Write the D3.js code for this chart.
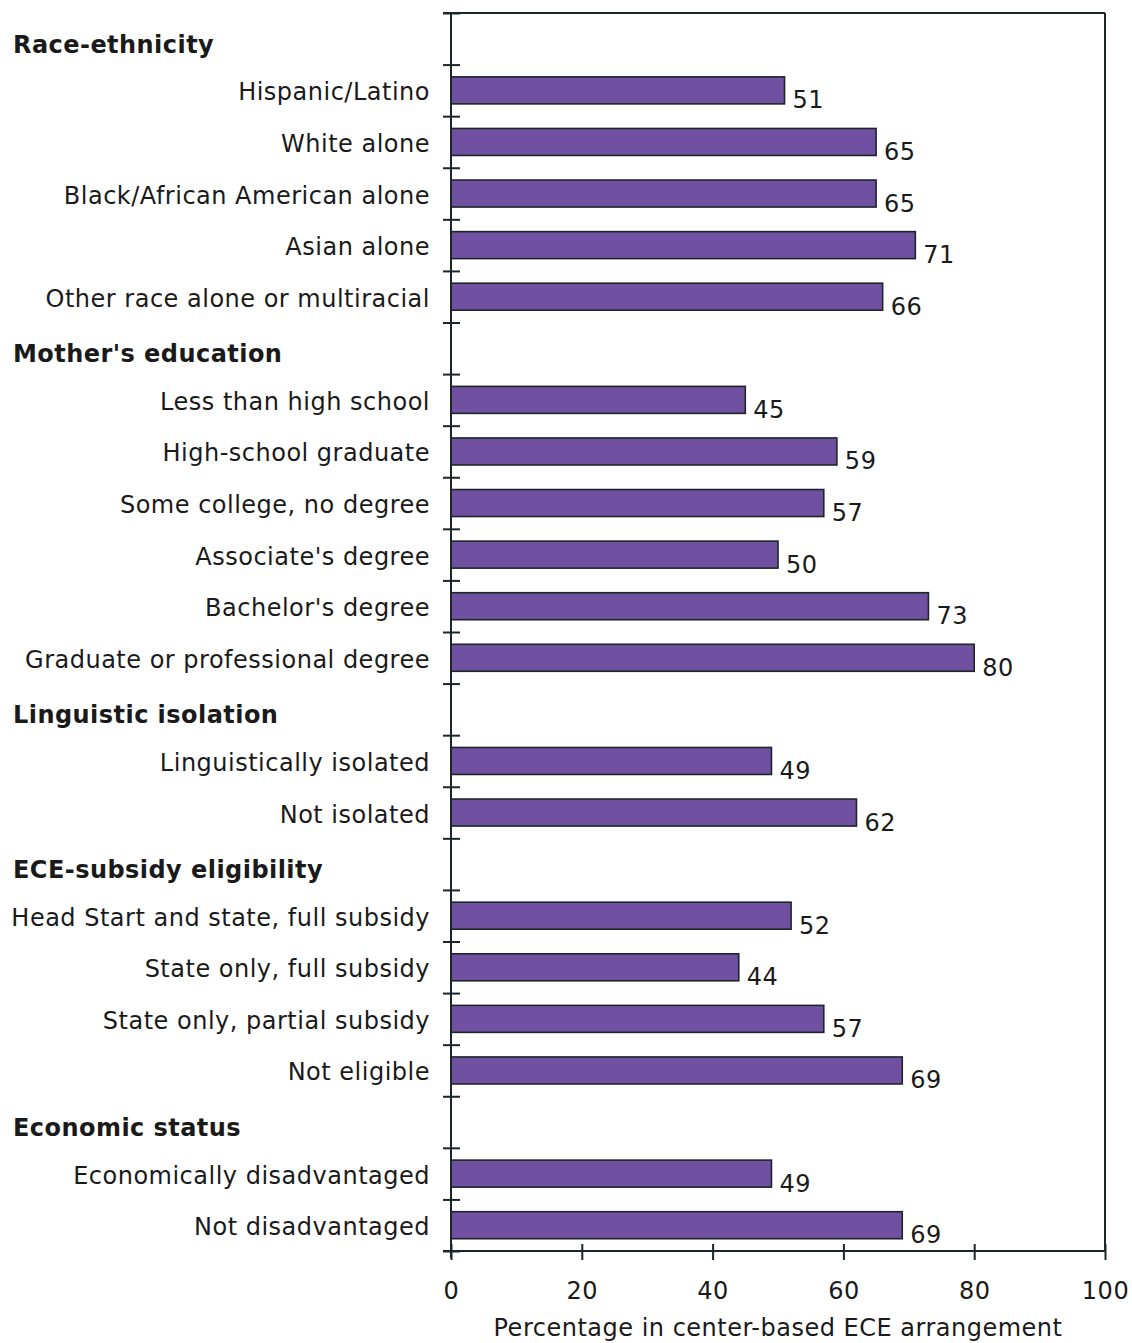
<!DOCTYPE html>
<html><head><meta charset="utf-8">
<script src="https://cdn.jsdelivr.net/npm/d3@7"></script>
<style>
html,body{margin:0;padding:0;background:#fff;}
text{font-family:"DejaVu Sans",Verdana,sans-serif;fill:#1a1a1a;}
</style></head>
<body><svg id="chart" width="1132" height="1343"></svg>
<script>
const groupNames = ["Race-ethnicity", "Mother's education", "Linguistic isolation", "ECE-subsidy eligibility", "Economic status"];
const categories = ["Hispanic/Latino", "White alone", "Black/African American alone", "Asian alone", "Other race alone or multiracial",
  "Less than high school", "High-school graduate", "Some college, no degree", "Associate's degree", "Bachelor's degree", "Graduate or professional degree",
  "Linguistically isolated", "Not isolated",
  "Head Start and state, full subsidy", "State only, full subsidy", "State only, partial subsidy", "Not eligible",
  "Economically disadvantaged", "Not disadvantaged"];
const categoryGroup = [0,0,0,0,0, 1,1,1,1,1,1, 2,2, 3,3,3,3, 4,4];
const values = [51,65,65,71,66, 45,59,57,50,73,80, 49,62, 52,44,57,69, 49,69];
const xTicks = [0,20,40,60,80,100];
const xTitle = "Percentage in center-based ECE arrangement";

(function () {
// build slot list: header then its categories
const slots = [];
groupNames.forEach((g, gi) => {
  slots.push({key: "h" + gi, header: true, label: g});
  categories.forEach((c, ci) => {
    if (categoryGroup[ci] === gi) slots.push({key: "c" + ci, header: false, label: c, value: values[ci]});
  });
});

const svg = d3.select("#chart");
const pLeft = 451, pRight = 1105, pTop = 13, pBottom = 1251;
const x = d3.scaleLinear().domain([0, 100]).range([pLeft, pRight]);
const y = d3.scaleBand().domain(slots.map(d => d.key)).range([pTop, pBottom]).paddingInner(0).paddingOuter(0);
const bw = y.bandwidth();
const barH = 27;
const ink = "#1b2629";

// bars
const bars = slots.filter(d => !d.header);
svg.append("g").selectAll("rect").data(bars).join("rect")
  .attr("x", x(0))
  .attr("y", d => y(d.key) + bw / 2 - barH / 2)
  .attr("width", d => x(d.value) - x(0))
  .attr("height", barH)
  .attr("fill", "#7050a0")
  .attr("stroke", ink)
  .attr("stroke-width", 1.6);

// value labels
svg.append("g").selectAll("text").data(bars).join("text")
  .attr("x", d => x(d.value) + 8)
  .attr("y", d => y(d.key) + bw / 2 + 18)
  .attr("font-size", 24)
  .attr("letter-spacing", 0.5)
  .text(d => d.value);

// category labels
svg.append("g").selectAll("text").data(bars).join("text")
  .attr("x", 430)
  .attr("y", d => y(d.key) + bw / 2 + 10)
  .attr("text-anchor", "end")
  .attr("font-size", 24)
  .attr("letter-spacing", 0.5)
  .text(d => d.label);

// group headers
svg.append("g").selectAll("text").data(slots.filter(d => d.header)).join("text")
  .attr("x", 13)
  .attr("y", d => y(d.key) + bw / 2 + 14)
  .attr("font-size", 24)
  .attr("font-weight", "bold")
  .attr("letter-spacing", 0.45)
  .text(d => d.label);

// frame
svg.append("line").attr("x1", pLeft - 8).attr("x2", pRight).attr("y1", pTop).attr("y2", pTop)
  .attr("stroke", ink).attr("stroke-width", 2);
svg.append("line").attr("x1", pRight).attr("x2", pRight).attr("y1", pTop).attr("y2", pBottom)
  .attr("stroke", ink).attr("stroke-width", 2);

// left axis with ticks at slot boundaries
const yb = d3.scaleLinear().domain([0, slots.length]).range([pTop, pBottom]);
const yAxis = svg.append("g").attr("transform", `translate(${pLeft},0)`)
  .call(d3.axisLeft(yb).tickValues(d3.range(0, slots.length + 1)).tickSize(8).tickFormat(""));
yAxis.selectAll(".tick line").attr("x1", 9).attr("x2", -8);
yAxis.select(".domain").attr("d", `M0,${pTop}V${pBottom + 7}`);
yAxis.selectAll("path,line").attr("stroke", ink).attr("stroke-width", 2);

// bottom axis
const xAxis = svg.append("g").attr("transform", `translate(0,${pBottom})`)
  .call(d3.axisBottom(x).tickValues(xTicks).tickSize(8).tickPadding(23));
xAxis.selectAll(".tick line").attr("y1", -7).attr("y2", 9);
xAxis.select(".domain").attr("d", `M${pLeft - 8},0H${pRight}`);
xAxis.selectAll("path,line").attr("stroke", ink).attr("stroke-width", 2);
xAxis.selectAll(".tick text").attr("font-size", 24).attr("font-family", '"DejaVu Sans",Verdana,sans-serif').attr("fill", "#1a1a1a").attr("letter-spacing", 0.5);

// axis title
svg.append("text")
  .attr("x", 778)
  .attr("y", 1336)
  .attr("text-anchor", "middle")
  .attr("font-size", 24)
  .attr("letter-spacing", 0.5)
  .text(xTitle);
})();
</script>
</body></html>
